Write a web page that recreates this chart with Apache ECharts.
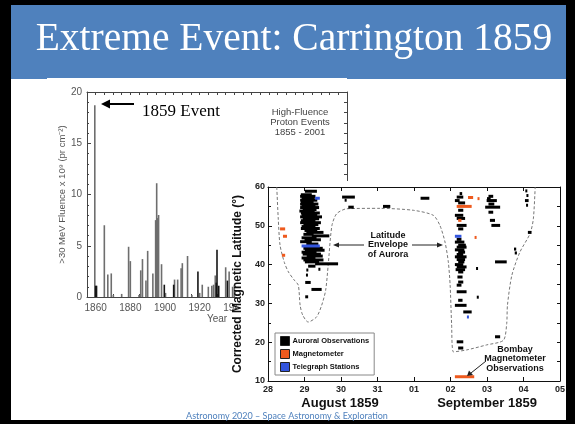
<!DOCTYPE html>
<html>
<head>
<meta charset="utf-8">
<script src="https://cdn.jsdelivr.net/npm/echarts@6/dist/echarts.min.js"></script>
<style>
html,body{margin:0;padding:0;background:#fff;}
#main{width:575px;height:424px;}
</style>
</head>
<body>
<div id="main"></div>
<script>
// proton fluence events (x 10^9 pr/cm2)
var fluenceYears = [1859.5, 1865, 1867, 1869, 1870.2, 1875, 1879, 1880, 1885, 1886, 1887, 1889, 1890, 1893, 1894.6, 1895.2, 1895.7, 1896.3, 1898, 1900.3, 1905.5, 1907.3, 1909.3, 1910, 1913, 1915.5, 1920, 1921.5, 1925, 1927, 1928, 1929, 1935, 1937, 1939, 1940];
var fluenceValues = [18.7, 7.0, 2.2, 2.3, 0.2, 0.3, 4.9, 3.5, 0.2, 2.6, 3.7, 1.6, 4.5, 2.3, 7.5, 11.1, 7.7, 8.0, 3.2, 0.4, 1.7, 1.7, 2.8, 3.3, 4.0, 0.2, 0.4, 1.2, 1.0, 1.1, 1.2, 2.1, 2.9, 2.5, 1.0, 1.2];
var darkYears = [1860, 1860.5, 1899.6, 1905, 1919, 1929.6, 1930, 1931, 1936];
var darkValues = [1.1, 1.1, 1.2, 1.2, 2.5, 1.4, 4.6, 1.1, 1.6];

// aurora inset, x = days after 28 Aug 1859 00h
var dayLabels = ['28', '29', '30', '31', '01', '02', '03', '04', '05'];
// [start, end, latitude]
var auroralSegs = [
  [1.01,1.34,58.9],[0.90,1.20,58.0],[0.88,1.30,57.6],[0.92,1.28,57.1],[0.88,1.35,56.6],[0.90,1.25,56.1],
  [0.88,1.38,55.6],[0.92,1.30,55.2],[0.88,1.40,54.7],[0.95,1.33,54.2],[0.86,1.28,53.8],[0.90,1.42,53.3],
  [0.92,1.35,52.8],[0.88,1.48,52.3],[0.95,1.40,51.8],[0.90,1.30,51.3],[0.88,1.45,50.8],[0.97,1.38,50.3],
  [0.92,1.30,49.8],[0.90,1.42,49.3],[1.00,1.35,48.8],[1.05,1.52,48.3],[0.97,1.25,47.8],[1.20,1.68,47.4],
  [0.92,1.33,46.9],[1.00,1.45,46.4],[0.88,1.20,45.9],[1.05,1.38,45.3],[0.97,1.50,44.2],[1.01,1.55,43.7],
  [0.92,1.33,43.2],[0.95,1.45,42.7],[1.06,1.50,42.2],[0.92,1.30,41.7],[0.97,1.52,41.2],[1.01,1.40,40.7],
  [1.29,1.92,40.2],[1.10,1.30,39.6],[1.05,1.10,38.6],[1.38,1.42,38.8],[1.04,1.08,37.3],[1.02,1.17,35.4],
  [1.19,1.47,33.6],[1.02,1.10,31.7],
  [2.03,2.38,57.4],[2.10,2.15,56.6],[2.20,2.35,54.8],[3.15,3.35,55.0],[4.18,4.42,57.1],
  [5.25,5.32,58.3],[5.17,5.35,57.4],[5.12,5.25,56.5],[5.21,5.40,55.9],[5.21,5.35,54.0],[5.12,5.35,52.7],
  [5.17,5.40,51.9],[5.17,5.44,50.1],[5.21,5.35,49.2],[5.17,5.30,46.5],[5.12,5.38,45.8],[5.21,5.42,45.0],
  [5.17,5.44,44.5],[5.12,5.38,43.8],[5.21,5.40,43.2],[5.17,5.35,42.6],[5.12,5.44,42.0],[5.17,5.40,41.3],
  [5.21,5.38,40.7],[5.12,5.35,40.0],[5.17,5.44,39.4],[5.14,5.40,38.7],[5.21,5.35,38.1],[5.19,5.33,36.8],
  [5.21,5.35,35.5],[5.17,5.30,34.7],[5.17,5.44,33.0],[5.72,5.76,31.6],[5.21,5.33,30.8],[5.12,5.44,29.5],
  [5.35,5.58,27.8],[5.17,5.35,20.1],[5.21,5.35,18.5],[6.22,6.36,21.4],[5.70,5.74,39.0],
  [6.04,6.17,57.6],[6.00,6.10,57.0],[5.99,6.27,56.5],[6.04,6.20,55.6],[5.95,6.36,54.8],[6.04,6.17,53.5],
  [6.08,6.22,51.4],[6.12,6.36,50.1],[6.74,6.80,44.0],[6.76,6.82,43.0],[6.22,6.54,40.7],
  [7.05,7.10,59.0],[7.08,7.12,57.8],[7.04,7.14,56.5],[7.07,7.11,55.3],[7.12,7.22,48.3]
];
var magnetoSegs = [
  [0.33,0.47,49.2],[0.41,0.52,47.3],[0.38,0.47,42.4],[5.48,5.62,57.3],[5.17,5.58,55.0],[5.21,5.30,51.4],
  [5.74,5.78,57.0],[5.66,5.70,47.0],[5.12,5.65,11.1]
];
var telegraphSegs = [[1.29,1.42,57.1],[0.92,1.42,44.8],[5.12,5.30,47.3],[5.45,5.50,26.5]];
var envelope = [
  [0.24,60],[0.28,52],[0.33,45],[0.45,40.5],[0.56,38.1],[0.72,36],[0.83,34.7],[0.88,29.5],[0.95,27],
  [1.10,25.2],[1.33,26.5],[1.47,29.5],[1.58,33.4],[1.65,40],[1.75,50],[1.88,53.1],[2.16,54.4],[3.07,54.5],
  [3.98,54],[4.53,52.7],[4.71,50.1],[4.85,45.8],[4.94,40.7],[4.99,34.7],[5.03,24.8],[5.08,17.5],[5.44,18],
  [5.99,19.3],[6.45,20.5],[6.54,24.8],[6.56,29.5],[6.68,37.2],[6.90,43.2],[7.18,48],[7.27,51.8],[7.32,60]
];

function pairs(xs, ys) {
  var out = [];
  for (var i = 0; i < xs.length; i++) out.push([xs[i], ys[i]]);
  return out;
}

function segRender(h) {
  return function (params, api) {
    var a = api.coord([api.value(0), api.value(2)]);
    var b = api.coord([api.value(1), api.value(2)]);
    return {
      type: 'rect',
      shape: { x: a[0], y: a[1] - h / 2, width: Math.max(b[0] - a[0], 2), height: h },
      style: { fill: api.visual('color') }
    };
  };
}

function segSeries(name, data, color) {
  return {
    name: name, type: 'custom', xAxisIndex: 2, yAxisIndex: 2, z: 11,
    renderItem: segRender(3), encode: { x: [0, 1], y: 2 },
    itemStyle: { color: color }, data: data, silent: true
  };
}

var chart = echarts.init(document.getElementById('main'), null, { renderer: 'canvas' });

var axisGray = '#444';
var smallFont = 'Arial, "Liberation Sans", sans-serif';

var option = {
  animation: false,
  backgroundColor: '#fff',
  grid: [
    { left: 87, top: 92, width: 260, height: 205 },
    { left: 268, top: 187, width: 292, height: 194, z: 10 }
  ],
  xAxis: [
    {
      type: 'value', gridIndex: 0, min: 1855, max: 2005, interval: 5,
      name: 'Year', nameLocation: 'middle', nameGap: 17,
      nameTextStyle: { color: '#555', fontSize: 10, fontFamily: smallFont },
      axisLine: { show: true, onZero: false, lineStyle: { color: axisGray } },
      axisTick: { inside: true, length: 3, lineStyle: { color: axisGray } },
      splitLine: { show: false },
      axisLabel: {
        color: '#555', fontSize: 10, fontFamily: smallFont, margin: 6,
        formatter: function (v) { return v % 20 === 0 ? String(v) : ''; }
      }
    },
    {
      type: 'value', gridIndex: 0, min: 1855, max: 2005, interval: 5, position: 'top',
      axisLine: { show: true, onZero: false, lineStyle: { color: axisGray } },
      axisTick: { show: true, inside: true, length: 3, lineStyle: { color: axisGray } },
      splitLine: { show: false }, axisLabel: { show: false }
    },
    {
      type: 'value', gridIndex: 1, min: 0, max: 8, interval: 1, z: 10,
      axisLine: { show: true, onZero: false, lineStyle: { color: '#111' } },
      axisTick: { inside: true, length: 4, lineStyle: { color: '#111' } },
      splitLine: { show: false },
      axisLabel: {
        color: '#222', fontSize: 9, fontWeight: 'bold', fontFamily: smallFont, margin: 4,
        formatter: function (v) { return dayLabels[v]; }
      }
    },
    {
      type: 'value', gridIndex: 1, min: 0, max: 8, interval: 1, position: 'top', z: 10,
      axisLine: { show: true, onZero: false, lineStyle: { color: '#111' } },
      axisTick: { show: true, inside: true, length: 4, lineStyle: { color: '#111' } },
      splitLine: { show: false }, axisLabel: { show: false }
    }
  ],
  yAxis: [
    {
      type: 'value', gridIndex: 0, min: 0, max: 20, interval: 5,
      name: '>30 MeV Fluence x 10⁹ (pr cm⁻²)', nameLocation: 'middle', nameGap: 15,
      nameTextStyle: { color: '#555', fontSize: 9.5, fontFamily: smallFont },
      axisLine: { show: true, onZero: false, lineStyle: { color: axisGray } },
      axisTick: { show: true, inside: true, length: 4, lineStyle: { color: axisGray } },
      minorTick: { show: true, splitNumber: 5, length: 2, lineStyle: { color: axisGray } },
      splitLine: { show: false }, minorSplitLine: { show: false },
      axisLabel: { color: '#555', fontSize: 10, fontFamily: smallFont, margin: 5 }
    },
    {
      type: 'value', gridIndex: 0, min: 0, max: 20, interval: 1, position: 'right',
      axisLine: { show: true, onZero: false, lineStyle: { color: axisGray } },
      axisTick: { show: true, inside: true, length: 3, lineStyle: { color: axisGray } },
      splitLine: { show: false }, axisLabel: { show: false }
    },
    {
      type: 'value', gridIndex: 1, min: 10, max: 60, interval: 10, z: 10,
      name: 'Corrected Magnetic Latitude (°)', nameLocation: 'middle', nameGap: 12,
      nameTextStyle: { color: '#111', fontSize: 12, fontWeight: 'bold', fontFamily: smallFont },
      axisLine: { show: true, onZero: false, lineStyle: { color: '#111' } },
      axisTick: { show: true, inside: true, length: 4, lineStyle: { color: '#111' } },
      minorTick: { show: true, splitNumber: 2, length: 3, lineStyle: { color: '#111' } },
      splitLine: { show: false }, minorSplitLine: { show: false },
      axisLabel: { color: '#222', fontSize: 9, fontWeight: 'bold', fontFamily: smallFont, margin: 3 }
    },
    {
      type: 'value', gridIndex: 1, min: 10, max: 60, interval: 5, position: 'right', z: 10,
      axisLine: { show: true, onZero: false, lineStyle: { color: '#111' } },
      axisTick: { show: true, inside: true, length: 3, lineStyle: { color: '#111' } },
      splitLine: { show: false }, axisLabel: { show: false }
    }
  ],
  legend: {
    data: ['Auroral Observations', 'Magnetometer', 'Telegraph Stations'],
    orient: 'vertical', left: 275, top: 333, z: 12,
    backgroundColor: '#fff', borderColor: '#888', borderWidth: 1,
    padding: [3, 5, 3, 5], itemGap: 3, itemWidth: 9, itemHeight: 9, icon: 'rect',
    itemStyle: { borderColor: '#222', borderWidth: 1 },
    textStyle: { color: '#111', fontSize: 7.5, fontWeight: 'bold', fontFamily: smallFont, padding: [0, 0, 0, -2] }
  },
  series: [
    {
      type: 'bar', xAxisIndex: 0, yAxisIndex: 0, barWidth: 1.6, z: 2,
      itemStyle: { color: '#6e6e6e' }, data: pairs(fluenceYears, fluenceValues)
    },
    {
      type: 'bar', xAxisIndex: 0, yAxisIndex: 0, barWidth: 1.6, barGap: '-100%', z: 2,
      itemStyle: { color: '#151515' }, data: pairs(darkYears, darkValues)
    },
    {
      type: 'line', name: 'envelope', xAxisIndex: 2, yAxisIndex: 2, z: 10,
      smooth: 0.25, symbol: 'none', silent: true,
      lineStyle: { color: '#777', width: 1, type: [3, 2] }, data: envelope
    },
    segSeries('Auroral Observations', auroralSegs, '#000'),
    segSeries('Magnetometer', magnetoSegs, '#ee5a1e'),
    segSeries('Telegraph Stations', telegraphSegs, '#3355dd')
  ],
  graphic: [
    // slide frame and header
    { type: 'rect', z: 0, shape: { x: 0, y: 0, width: 575, height: 5 }, style: { fill: '#000' } },
    { type: 'rect', z: 0, shape: { x: 0, y: 0, width: 11, height: 424 }, style: { fill: '#000' } },
    { type: 'rect', z: 0, shape: { x: 566, y: 0, width: 9, height: 424 }, style: { fill: '#000' } },
    { type: 'rect', z: 0, shape: { x: 0, y: 420, width: 575, height: 4 }, style: { fill: '#000' } },
    { type: 'rect', z: 0, shape: { x: 11, y: 5, width: 555, height: 74 }, style: { fill: '#4f81bd' } },
    { type: 'rect', z: 0, shape: { x: 47, y: 78, width: 300, height: 2 }, style: { fill: '#fff' } },
    {
      type: 'text', z: 1, x: 294, y: 40,
      style: {
        text: 'Extreme Event: Carrington 1859', fill: '#fff', align: 'center', verticalAlign: 'middle',
        font: '39.5px "Liberation Serif", "DejaVu Serif", serif',
        shadowColor: 'rgba(0,0,0,0.45)', shadowBlur: 3, shadowOffsetX: 1, shadowOffsetY: 2
      }
    },
    // bar chart annotations
    { type: 'line', z: 3, shape: { x1: 134, y1: 104, x2: 108, y2: 104 }, style: { stroke: '#000', lineWidth: 2 } },
    { type: 'polygon', z: 3, shape: { points: [[101, 104], [110, 99.5], [110, 108.5]] }, style: { fill: '#000' } },
    {
      type: 'text', z: 3, x: 142, y: 112,
      style: { text: '1859 Event', fill: '#000', verticalAlign: 'middle', font: '17px "Liberation Serif", serif' }
    },
    {
      type: 'text', z: 3, x: 300, y: 107,
      style: {
        text: 'High-Fluence\nProton Events\n1855 - 2001', fill: '#444', align: 'center', verticalAlign: 'top',
        font: '9.5px Arial, "Liberation Sans", sans-serif', lineHeight: 10
      }
    },
    // inset panel
    { type: 'rect', z: 5, shape: { x: 237, y: 181, width: 329, height: 232 }, style: { fill: '#fff' } },
    {
      type: 'text', z: 12, x: 340, y: 403,
      style: { text: 'August 1859', fill: '#111', align: 'center', verticalAlign: 'middle', font: 'bold 13px Arial, "Liberation Sans", sans-serif' }
    },
    {
      type: 'text', z: 12, x: 487, y: 403,
      style: { text: 'September 1859', fill: '#111', align: 'center', verticalAlign: 'middle', font: 'bold 13px Arial, "Liberation Sans", sans-serif' }
    },
    {
      type: 'text', z: 12, x: 388, y: 245,
      style: {
        text: 'Latitude\nEnvelope\nof Aurora', fill: '#111', align: 'center', verticalAlign: 'middle',
        font: 'bold 9px Arial, "Liberation Sans", sans-serif', lineHeight: 9.5
      }
    },
    { type: 'line', z: 12, shape: { x1: 364, y1: 245, x2: 337, y2: 245 }, style: { stroke: '#222', lineWidth: 1 } },
    { type: 'polygon', z: 12, shape: { points: [[333, 245], [339, 242.5], [339, 247.5]] }, style: { fill: '#222' } },
    { type: 'line', z: 12, shape: { x1: 412, y1: 245, x2: 439, y2: 245 }, style: { stroke: '#222', lineWidth: 1 } },
    { type: 'polygon', z: 12, shape: { points: [[443, 245], [437, 242.5], [437, 247.5]] }, style: { fill: '#222' } },
    {
      type: 'text', z: 12, x: 515, y: 359,
      style: {
        text: 'Bombay\nMagnetometer\nObservations', fill: '#111', align: 'center', verticalAlign: 'middle',
        font: 'bold 9px Arial, "Liberation Sans", sans-serif', lineHeight: 9.5
      }
    },
    { type: 'line', z: 12, shape: { x1: 486, y1: 361, x2: 471, y2: 373 }, style: { stroke: '#222', lineWidth: 1 } },
    { type: 'polygon', z: 12, shape: { points: [[467, 376], [469, 370.5], [473, 375]] }, style: { fill: '#222' } },
    // footer
    {
      type: 'text', z: 13, x: 287, y: 416,
      style: {
        text: 'Astronomy 2020 – Space Astronomy & Exploration', fill: '#4f81bd', align: 'center', verticalAlign: 'middle',
        font: '9px Lato, "Open Sans", sans-serif'
      }
    }
  ]
};

chart.setOption(option);
</script>
</body>
</html>
